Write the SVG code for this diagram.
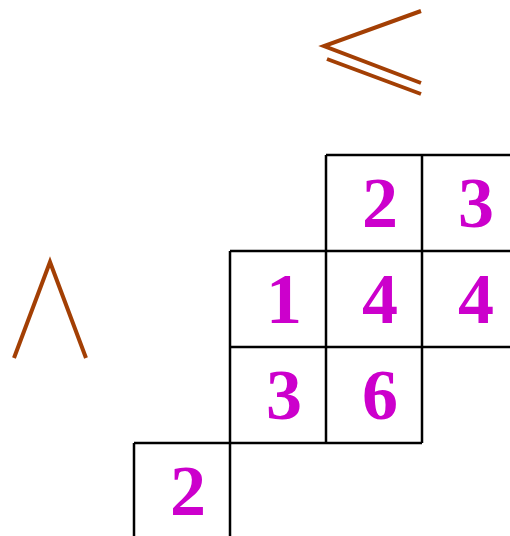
<svg xmlns="http://www.w3.org/2000/svg" width="510" height="536" viewBox="0 0 510 536">
<style>
.g{stroke:#000;stroke-width:2.5;fill:none}
.s{stroke:#A33F04;stroke-width:4;fill:none}
.t{font-family:"Liberation Serif",serif;font-weight:bold;font-size:72px;fill:#CC00CC;text-anchor:middle}
</style>
<rect width="510" height="536" fill="#fff"/>
<g id="symbols">
<polyline class="s" points="421,11 324,46 421,83"/>
<line class="s" x1="327" y1="59" x2="421" y2="94"/>
<polyline class="s" points="14,358 50,262 86,358"/>
</g>
<g id="grid">
<path class="g" d="M326,155H512M230,251H512M230,347H512M134,443H422M134,443V538M230,251V538M326,155V443M422,155V443"/>
</g>
<g id="cells">
<text class="t" x="380" y="227">2</text>
<text class="t" x="476" y="227">3</text>
<text class="t" x="284" y="323">1</text>
<text class="t" x="380" y="323">4</text>
<text class="t" x="476" y="323">4</text>
<text class="t" x="284" y="419">3</text>
<text class="t" x="380" y="419">6</text>
<text class="t" x="188" y="515">2</text>
</g>
</svg>
